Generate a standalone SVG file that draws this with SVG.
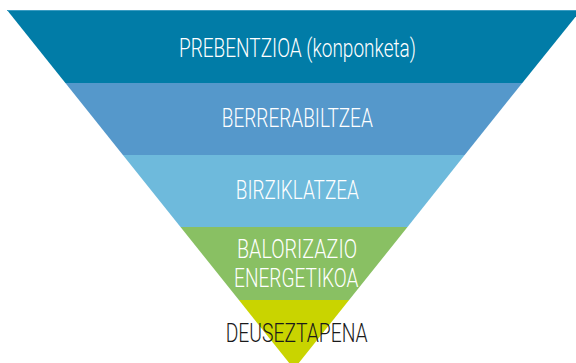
<svg xmlns="http://www.w3.org/2000/svg" width="576" height="363" viewBox="0 0 576 363">
<style>
  .lbl { font-family: Roboto, "Liberation Sans", sans-serif; font-weight: 300; font-size: 25px; text-anchor: middle; fill: #ffffff; }
  .dark { fill: #1a1a1a; }
</style>
<rect width="576" height="363" fill="#ffffff"/>
<g id="prebentzioa">
  <polygon points="7,10 581,10 522.3,83 65.4,83" fill="#017ca7"/>
  <line x1="7" y1="10.5" x2="581" y2="10.5" stroke="#3a9cc2" stroke-width="1"/>
  <text class="lbl" x="297.5" y="57.3" textLength="237" lengthAdjust="spacingAndGlyphs">PREBENTZIOA (konponketa)</text>
</g>
<g id="berrerabiltzea">
  <polygon points="65.4,83 522.3,83 464.7,155 122.9,155" fill="#5598cb"/>
  <text class="lbl" x="297.3" y="127.3" textLength="151" lengthAdjust="spacingAndGlyphs">BERRERABILTZEA</text>
</g>
<g id="birziklatzea">
  <polygon points="122.9,155 464.7,155 407.5,227 180.5,227" fill="#6ebadc"/>
  <text class="lbl" x="297.3" y="199" textLength="123" lengthAdjust="spacingAndGlyphs">BIRZIKLATZEA</text>
</g>
<g id="balorizazio">
  <polygon points="180.5,227 407.5,227 349.1,300 238.9,300" fill="#89c063"/>
  <text class="lbl" x="297" y="258.3" textLength="120" lengthAdjust="spacingAndGlyphs">BALORIZAZIO</text>
  <text class="lbl" x="296.3" y="286.7" textLength="124.5" lengthAdjust="spacingAndGlyphs">ENERGETIKOA</text>
</g>
<g id="deuseztapena">
  <polygon points="238.9,300 349.1,300 294,369" fill="#c9d400"/>
  <text class="lbl dark" x="296.7" y="341.7" textLength="142" lengthAdjust="spacingAndGlyphs" font-size="27">DEUSEZTAPENA</text>
</g>
<g id="connectors"></g>
</svg>
